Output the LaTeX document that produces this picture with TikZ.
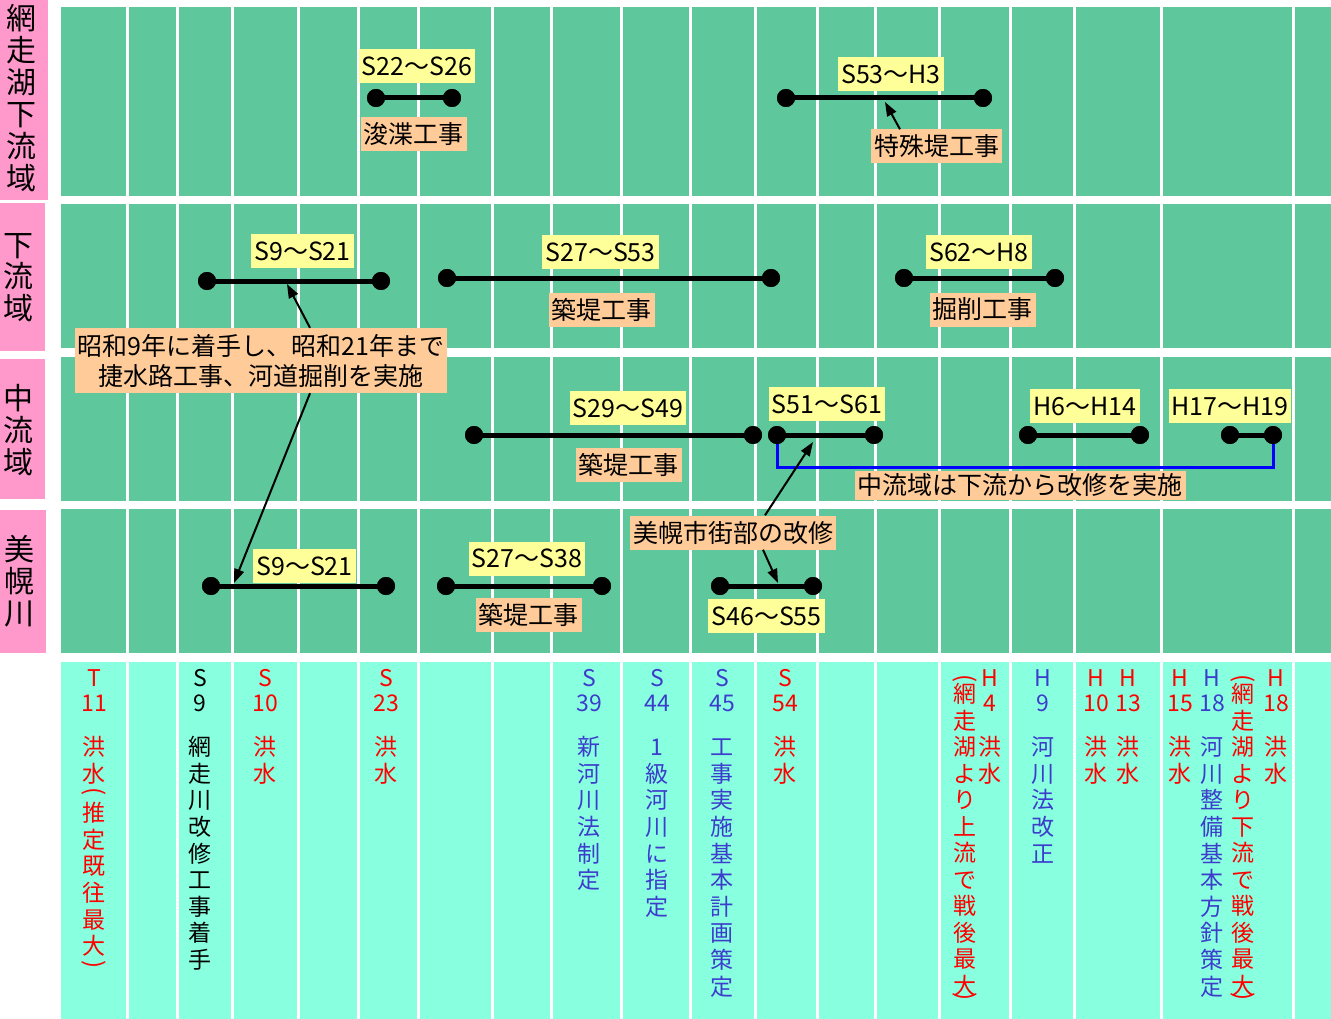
\documentclass[tikz,border=0pt]{standalone}
\usepackage{graphicx}
\usepackage{fontspec}
\setmainfont{Noto Sans CJK JP}
\usetikzlibrary{arrows.meta}
\definecolor{grn}{RGB}{94,200,156}
\definecolor{cyn}{RGB}{136,255,222}
\definecolor{pnk}{RGB}{255,153,204}
\definecolor{ylw}{RGB}{255,255,153}
\definecolor{org}{RGB}{255,204,153}
\definecolor{txtblue}{RGB}{60,60,205}
\definecolor{lineblue}{RGB}{0,0,255}
\newcommand\vcol[6]{\foreach \ch [count=\k from 0] in {#6} {\node[#5] (#1-\k) at (#2,{#3+#4*\k}) {\ch};}}
\newcommand\ev[5]{\node[vch,text=#3] (#1l) at (#2,678) {#4};\node[vch,text=#3] (#1n) at (#2,703) {#5};}
\newcommand\opn{\rotatebox[origin=c]{-90}{(}}
\newcommand\cls{\rotatebox[origin=c]{-90}{)}}
\begin{document}
\begin{tikzpicture}[x=1pt,y=-1pt,
  lab/.style={inner xsep=3pt, inner ysep=0pt, minimum height=34pt, font=\fontsize{25}{25}\selectfont},
  yl/.style={lab, fill=ylw},
  og/.style={lab, fill=org},
  dot/.style={circle, fill=black, inner sep=0pt, minimum size=18pt},
  bar/.style={line width=5pt},
  arr/.style={line width=2pt, -{Triangle[length=14pt,width=10pt]}},
  bracket/.style={draw=lineblue, line width=3pt},
  vch/.style={inner sep=0pt, font=\fontsize{23}{23}\selectfont, text height=20.2pt, text depth=2.8pt},
  vpar/.style={inner sep=0pt, font=\fontsize{24}{24}\selectfont},
  lbl/.style={inner sep=0pt, font=\fontsize{30}{30}\selectfont, text height=26.4pt, text depth=3.6pt},
  sep/.style={white, line width=3pt}]
\useasboundingbox (0,0) rectangle (1331,1019);
\fill[white] (0,0) rectangle (1331,1019);
% bands
\fill[grn] (61,7) rectangle (1331,196);
\fill[grn] (61,204) rectangle (1331,348);
\fill[grn] (61,357) rectangle (1331,501);
\fill[grn] (61,509) rectangle (1331,653);
\fill[cyn] (61,662) rectangle (1331,1019);
\foreach \x in {127,177,232,298,358,418,492,551,621,690,755,817,875,939,1010,1074,1161,1293}
  \draw[sep] (\x,0) -- (\x,1019);
% left labels
\fill[pnk] (0,0) rectangle (48,200);
\fill[pnk] (0,203) rectangle (45,351);
\fill[pnk] (0,359) rectangle (45,499);
\fill[pnk] (0,510) rectangle (46,653);
\vcol{La}{21}{18}{32}{lbl}{網,走,湖,下,流,域}
\vcol{Lb}{19}{245}{31.5}{lbl}{下,流,域}
\vcol{Lc}{19}{398}{32}{lbl}{中,流,域}
\vcol{Ld}{20}{549}{32}{lbl}{美,幌,川}
% dots
\node[dot] (a1) at (376,98) {};  \node[dot] (a2) at (452,98) {};
\node[dot] (b1) at (786,98) {};  \node[dot] (b2) at (983,98) {};
\node[dot] (c1) at (207,281) {}; \node[dot] (c2) at (381,281) {};
\node[dot] (d1) at (447,278) {}; \node[dot] (d2) at (771,278) {};
\node[dot] (e1) at (904,278) {}; \node[dot] (e2) at (1055,278) {};
\node[dot] (f1) at (474,435) {}; \node[dot] (f2) at (753,435) {};
\node[dot] (g1) at (777,435) {}; \node[dot] (g2) at (874,435) {};
\node[dot] (h1) at (1028,435) {}; \node[dot] (h2) at (1140,435) {};
\node[dot] (i1) at (1230,435) {}; \node[dot] (i2) at (1273,435) {};
\node[dot] (j1) at (211,586) {}; \node[dot] (j2) at (386,586) {};
\node[dot] (k1) at (446,586) {}; \node[dot] (k2) at (602,586) {};
\node[dot] (m1) at (720,586) {}; \node[dot] (m2) at (813,586) {};
% blue bracket
\draw[bracket] (g1.center) -- ++(0,32) -| (i2.center);
% bars
\foreach \p in {a,b,c,d,e,f,g,h,i,j,k,m}
  \draw[bar] (\p1.center) -- (\p2.center);
\foreach \p in {a,b,c,d,e,f,g,h,i,j,k,m}
  {\fill (\p1) circle[radius=9pt]; \fill (\p2) circle[radius=9pt];}
% labels
\node[yl] (la) at (417,66) {S22〜S26};
\node[og] (lb) at (413.5,134) {浚渫工事};
\node[yl] (lc) at (891,74.5) {S53〜H3};
\node[og] (ld) at (936.5,146.5) {特殊堤工事};
\node[yl] (le) at (302.5,251.5) {S9〜S21};
\node[yl] (lf) at (600.5,252.5) {S27〜S53};
\node[og] (lg) at (601.5,309.5) {築堤工事};
\node[yl] (lh) at (979,252.5) {S62〜H8};
\node[og] (li) at (982.5,309.5) {掘削工事};
\node[og, minimum width=366pt, minimum height=65pt, align=center, font=\fontsize{25}{30}\selectfont] (big) at (261,360.5) {昭和9年に着手し、昭和21年まで\\捷水路工事、河道掘削を実施};
\node[yl] (lj) at (628,408) {S29〜S49};
\node[og] (lk) at (628.5,465) {築堤工事};
\node[yl] (ll) at (827,404) {S51〜S61};
\node[yl] (lm) at (1085,406) {H6〜H14};
\node[yl] (ln) at (1230,406) {H17〜H19};
\node[og, minimum height=29pt] (lo) at (1020,485) {中流域は下流から改修を実施};
\node[og] (lp) at (733,532.5) {美幌市街部の改修};
\node[yl] (lq) at (304.5,566) {S9〜S21};
\node[yl] (lr) at (527,558.5) {S27〜S38};
\node[og] (ls) at (528.5,614.5) {築堤工事};
\node[yl] (lt) at (766.5,616) {S46〜S55};
% arrows
\coordinate (t1) at (287,284);
\coordinate (t2) at (234,583);
\coordinate (t3) at (885,102);
\coordinate (t4) at (813,442);
\coordinate (t5) at (778,583);
\draw[arr] ([xshift=49pt]big.north) -- (t1);
\draw[arr] ([xshift=49pt]big.south) -- (t2);
\draw[arr] ([xshift=-36.5pt]ld.north) -- (t3);
\draw[arr] ([xshift=32pt]lp.north) -- (t4);
\draw[arr] ([xshift=30pt]lp.south) -- (t5);
% bottom events
\ev{T11}{94}{red}{T}{11}
\vcol{T11a}{94}{747}{26.6}{vch,text=red}{洪,水}
\node[vpar,text=red] (T11p) at (94,793) {\opn};
\vcol{T11b}{94}{813}{26.6}{vch,text=red}{推,定,既,往,最,大}
\node[vpar,text=red] (T11q) at (94,966) {\cls};
\ev{S9}{200}{black}{S}{9}
\vcol{S9a}{200}{747}{26.6}{vch,text=black}{網,走,川,改,修,工,事,着,手}
\ev{S10}{265}{red}{S}{10}
\vcol{S10a}{265}{747}{26.6}{vch,text=red}{洪,水}
\ev{S23}{386}{red}{S}{23}
\vcol{S23a}{386}{747}{26.6}{vch,text=red}{洪,水}
\ev{S39}{589}{txtblue}{S}{39}
\vcol{S39a}{589}{747}{26.6}{vch,text=txtblue}{新,河,川,法,制,定}
\ev{S44}{657}{txtblue}{S}{44}
\vcol{S44a}{657}{747}{26.6}{vch,text=txtblue}{1,級,河,川,に,指,定}
\ev{S45}{722}{txtblue}{S}{45}
\vcol{S45a}{722}{747}{26.6}{vch,text=txtblue}{工,事,実,施,基,本,計,画,策,定}
\ev{S54}{785}{red}{S}{54}
\vcol{S54a}{785}{747}{26.6}{vch,text=red}{洪,水}
\ev{H4}{990}{red}{H}{4}
\vcol{H4a}{990}{747}{26.6}{vch,text=red}{洪,水}
\node[vpar,text=red] (H4p) at (965,680) {\opn};
\vcol{H4b}{965}{694}{26.5}{vch,text=red}{網,走,湖,よ,り,上,流,で,戦,後,最,大}
\node[vpar,text=red] (H4q) at (965,998) {\cls};
\ev{H9}{1043}{txtblue}{H}{9}
\vcol{H9a}{1043}{747}{26.6}{vch,text=txtblue}{河,川,法,改,正}
\ev{H10}{1096}{red}{H}{10}
\vcol{H10a}{1096}{747}{26.6}{vch,text=red}{洪,水}
\ev{H13}{1128}{red}{H}{13}
\vcol{H13a}{1128}{747}{26.6}{vch,text=red}{洪,水}
\ev{H15}{1180}{red}{H}{15}
\vcol{H15a}{1180}{747}{26.6}{vch,text=red}{洪,水}
\ev{H18b}{1212}{txtblue}{H}{18}
\vcol{H18ba}{1212}{747}{26.6}{vch,text=txtblue}{河,川,整,備,基,本,方,針,策,定}
\node[vpar,text=red] (H18p) at (1243,680) {\opn};
\vcol{H18c}{1243}{694}{26.5}{vch,text=red}{網,走,湖,よ,り,下,流,で,戦,後,最,大}
\node[vpar,text=red] (H18q) at (1243,998) {\cls};
\ev{H18r}{1276}{red}{H}{18}
\vcol{H18ra}{1276}{747}{26.6}{vch,text=red}{洪,水}
\end{tikzpicture}
\end{document}
